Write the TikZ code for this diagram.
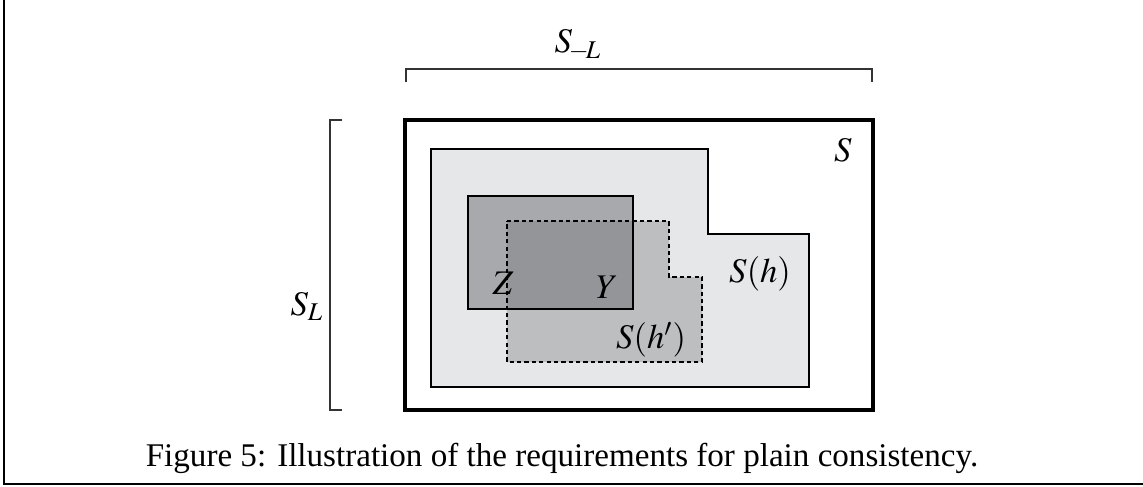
\documentclass[tikz,border=0pt]{standalone}
\usepackage{mathptmx}
\usepackage{fontspec}
\setmainfont{Liberation Serif}
\usetikzlibrary{positioning}

\definecolor{lightgrey}{HTML}{E6E7E8}
\definecolor{midgrey}{HTML}{BCBEC0}
\definecolor{darkgrey}{HTML}{A7A9AC}
\definecolor{overlapgrey}{HTML}{939598}

\begin{document}
\begin{tikzpicture}[x=0.42pt, y=-0.42pt,
    region/.style={line width=1.1pt, line join=miter},
    bracket/.style={line width=0.7pt, draw=black!80},
    lbl/.style={font=\fontsize{14.5}{17}\selectfont, inner sep=0pt}]
    \useasboundingbox (0,0) rectangle (1143,486);
    \draw[line width=1pt] (4,0) -- (4,484) -- (1143,484);

    % brackets
    \draw[bracket] (406,82) -- (406,69) -- (872,69) -- (872,82);
    \draw[bracket] (342,120) -- (330,120) -- (330,410) -- (342,410);
    \node[lbl] (sml) at (578,45) {$S_{\!-\!L}$};
    \node[lbl] (sl) at (307,306) {$S_L$};

    % sets
    \draw[line width=1.3pt] (405,120) rectangle (873,410);
    \fill[lightgrey] (431,149) -- (708,149) -- (708,234) -- (809,234) -- (809,387) -- (431,387) -- cycle;
    \draw[region] (431,149) -- (708,149) -- (708,234) -- (809,234) -- (809,387) -- (431,387) -- cycle;
    \fill[darkgrey] (468,196) rectangle (633,309);
    \fill[midgrey] (507,221) -- (669,221) -- (669,277) -- (702,277) -- (702,362) -- (507,362) -- cycle;
    \begin{scope}
        \clip (468,196) rectangle (633,309);
        \fill[overlapgrey] (507,221) -- (669,221) -- (669,277) -- (702,277) -- (702,362) -- (507,362) -- cycle;
    \end{scope}
    \draw[region] (468,196) rectangle (633,309);
    \draw[line width=1.1pt, dash pattern=on 1.8pt off 1.3pt] (507,221) -- (669,221) -- (669,277) -- (702,277) -- (702,362) -- (507,362) -- cycle;

    \node[lbl] (s) at (843,150) {$S$};
    \node[lbl] (sh) at (760,274) {$S(h)$};
    \node[lbl] (shp) at (651,340) {$S(h')$};
    \node[lbl] (z) at (503,283) {$Z$};
    \node[lbl] (y) at (607,287) {$Y$};

    \node[font=\fontsize{13.9}{16}\selectfont] (caption) at (562,458) {Figure 5: Illustration of the requirements for plain consistency.};
\end{tikzpicture}
\end{document}
